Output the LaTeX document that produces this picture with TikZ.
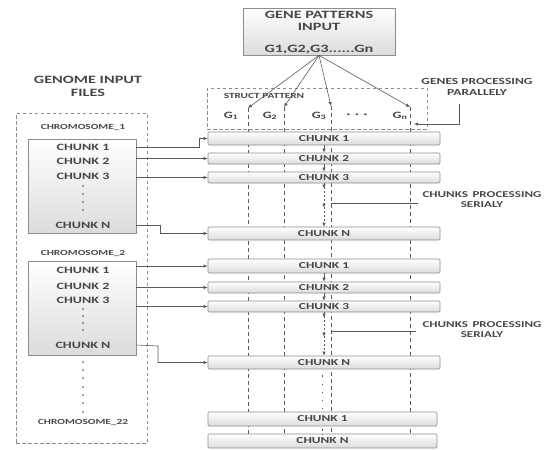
\documentclass[tikz,border=0pt]{standalone}
\usepackage{fontspec}
\setmainfont[FakeStretch=1.45]{Carlito}
\usetikzlibrary{arrows.meta,decorations.markings}
\definecolor{txt}{HTML}{474747}
\definecolor{ln}{HTML}{5A5A5A}
\definecolor{bd}{HTML}{8C8C8C}
\begin{document}
\begin{tikzpicture}[x=1pt,y=-1pt,
  font=\bfseries\color{txt},
  gbox/.style={draw=bd, line width=0.7pt, top color=white, bottom color=black!14, inner sep=0pt, rounded corners=1pt},
  cbox/.style={gbox, minimum width=232pt, font=\fontsize{9.2}{10}\selectfont\bfseries\color{txt}},
  lbl/.style={inner sep=0pt, font=\fontsize{9.7}{10}\selectfont\bfseries\color{txt}},
  sml/.style={inner sep=0pt, font=\fontsize{7.8}{8}\selectfont\bfseries\color{txt}},
  big/.style={inner sep=0pt, font=\fontsize{11.2}{12}\selectfont\bfseries\color{txt}},
  side/.style={inner sep=0pt, font=\fontsize{9}{10}\selectfont\bfseries\color{txt}},
  dbox/.style={draw=bd, line width=0.8pt, dash pattern=on 3.5pt off 2.5pt},
  vdash/.style={draw=ln, line width=0.6pt, dash pattern=on 4pt off 3pt},
  arr/.style={draw=ln, line width=0.6pt, -{Latex[length=4pt,width=3.5pt]}},
  plain/.style={draw=ln, line width=0.6pt},
  serial/.style={draw=ln, line width=0.6pt, dash pattern=on 2pt off 2pt,
    postaction={decorate},
    decoration={markings,
      mark=at position 0.12 with {\arrow{Latex[length=4pt,width=3.5pt]}},
      mark=at position 0.56 with {\arrow{Latex[length=4pt,width=3.5pt]}},
      mark=at position 1 with {\arrow{Latex[length=4pt,width=3.5pt]}}}}
]
\useasboundingbox (0,0) rectangle (550,450);

% ---------- top input box ----------
\node[gbox, minimum width=152pt, minimum height=47pt, rounded corners=0pt] (top) at (319,31.5) {};
\node[big] (t1) at (319,15) {GENE PATTERNS};
\node[big] (t2) at (319,27) {INPUT};
\node[big] (t3) at (319,50) {G1,G2,G3......Gn};

% ---------- struct pattern ----------
\node[dbox, minimum width=220pt, minimum height=41pt, inner sep=0pt] (sp) at (317,108.5) {};
\node[sml] (spl) at (264,96) {STRUCT PATTERN};
\node[lbl] (G1) at (231,116) {G\textsubscript{1}};
\node[lbl] (G2) at (270,116) {G\textsubscript{2}};
\node[lbl] (G3) at (319,116) {G\textsubscript{3}};
\node[lbl] (Gd) at (357,116) {·\enspace·\enspace·};
\node[lbl] (Gn) at (400,116) {G\textsubscript{n}};

\coordinate (g1t) at (248,108); \coordinate (g1b) at (248,438);
\coordinate (g2t) at (284,107); \coordinate (g2b) at (284,438);
\coordinate (g3t) at (331,106); \coordinate (g3b) at (331,440);
\coordinate (gnt) at (410,107); \coordinate (gnb) at (410,436);

% dashed processing lines (behind boxes)
\draw[vdash] (g1t) -- (g1b);
\draw[vdash] (g2t) -- (g2b);
\draw[vdash] (g3t) -- (g3b);
\draw[vdash] (gnt) -- (gnb);

% arrows from gene pattern input
\draw[arr] (top.south) -- (g1t);
\draw[arr] (top.south) -- (g2t);
\draw[arr] (top.south) -- (g3t);
\draw[arr] (top.south) -- (gnt);

% genes processing parallely
\node[side, font=\fontsize{9.3}{10}\selectfont\bfseries\color{txt}] (gp1) at (477,81) {GENES PROCESSING};
\node[side, font=\fontsize{9.3}{10}\selectfont\bfseries\color{txt}] (gp2) at (477,92) {PARALLELY};
\coordinate (gpa) at (459,104);
\coordinate (gpb) at (414,124);
\draw[arr] (gpa) |- (gpb);

% ---------- genome input files ----------
\node[big] (gi1) at (88,80) {GENOME INPUT};
\node[big] (gi2) at (88,93) {FILES};
\node[dbox, minimum width=131pt, minimum height=330pt, inner sep=0pt] (gbox) at (81.5,278) {};

\node[sml] (chr1) at (83,127) {CHROMOSOME\_1};
\node[gbox, minimum width=108pt, minimum height=94pt, rounded corners=0pt] (b1) at (82,186.5) {};
\node[lbl] (l11) at (83,147) {CHUNK 1};
\node[lbl] (l12) at (83,161) {CHUNK 2};
\node[lbl] (l13) at (83,176) {CHUNK 3};
\foreach \y in {186,194,202,210} \fill[txt] (83,\y) circle (0.8pt);
\node[lbl] (l1N) at (83,225) {CHUNK N};

\node[sml] (chr2) at (83,253) {CHROMOSOME\_2};
\node[gbox, minimum width=108pt, minimum height=94pt, rounded corners=0pt] (b2) at (82,308) {};
\node[lbl] (l21) at (83,270) {CHUNK 1};
\node[lbl] (l22) at (83,286) {CHUNK 2};
\node[lbl] (l23) at (83,300) {CHUNK 3};
\foreach \y in {309,316,323,330} \fill[txt] (83,\y) circle (0.8pt);
\node[lbl] (l2N) at (83,345) {CHUNK N};
\foreach \y in {362,370,378,387,395,403,412} \fill[txt] (83,\y) circle (0.8pt);
\node[sml] (chr22) at (83,422) {CHROMOSOME\_22};

% ---------- right chunk boxes ----------
\node[cbox, minimum height=13pt] (c11) at (324,138.5) {CHUNK 1};
\node[cbox, minimum height=11pt] (c12) at (324,158.5) {CHUNK 2};
\node[cbox, minimum height=11pt] (c13) at (324,177.5) {CHUNK 3};
\node[cbox, minimum height=13pt] (c1N) at (324,233.5) {CHUNK N};
\node[cbox, minimum height=14pt] (c21) at (324,266) {CHUNK 1};
\node[cbox, minimum height=11pt] (c22) at (324,287.5) {CHUNK 2};
\node[cbox, minimum height=11pt] (c23) at (324,306.5) {CHUNK 3};
\node[cbox, minimum height=13pt] (c2N) at (324,362.5) {CHUNK N};
\node[cbox, minimum height=14pt, minimum width=229pt] (c31) at (322.5,419) {CHUNK 1};
\node[cbox, minimum height=14pt, minimum width=229pt] (c3N) at (322.5,441) {CHUNK N};

% serial arrows
\coordinate (sx) at (324,0);
\draw[arr] (c11.south -| sx) -- (c12.north -| sx);
\draw[arr] (c12.south -| sx) -- (c13.north -| sx);
\draw[serial] (c13.south -| sx) -- (c1N.north -| sx);
\draw[arr] (c21.south -| sx) -- (c22.north -| sx);
\draw[arr] (c22.south -| sx) -- (c23.north -| sx);
\draw[serial] (c23.south -| sx) -- (c2N.north -| sx);
\coordinate (dx) at (322,0);
\draw[draw=ln, line width=1pt, dash pattern=on 1.2pt off 7pt, dash phase=-6pt] (c2N.south -| dx) -- (c31.north -| dx);
\draw[draw=ln, line width=1pt, dash pattern=on 1.2pt off 3pt, dash phase=-3pt] (c31.south -| dx) -- (c3N.north -| dx);

% chunks processing serialy
\node[side] (cs1) at (482,195) {CHUNKS\enspace PROCESSING};
\node[side] (cs2) at (482,205) {SERIALY};
\coordinate (cs1a) at (331,203); \coordinate (cs1b) at (418,203);
\draw[plain] (cs1a) -- (cs1b);
\node[side] (cs3) at (482,325) {CHUNKS\enspace PROCESSING};
\node[side] (cs4) at (482,335) {SERIALY};
\coordinate (cs2a) at (331,331); \coordinate (cs2b) at (416,331);
\draw[plain] (cs2a) -- (cs2b);

% ---------- input arrows ----------
\draw[arr] (l11 -| b1.east) -- (199,147) |- (c11.west);
\draw[arr] (c12.west -| b1.east) -- (c12.west);
\draw[arr] (c13.west -| b1.east) -- (c13.west);
\draw[arr] (l1N -| b1.east) -- (160,225) |- (c1N.west);
\draw[arr] (c21.west -| b2.east) -- (c21.west);
\draw[arr] (c22.west -| b2.east) -- (c22.west);
\draw[arr] (c23.west -| b2.east) -- (c23.west);
\draw[arr] (l2N -| b2.east) -- (158,346) |- (c2N.west);
\end{tikzpicture}
\end{document}
